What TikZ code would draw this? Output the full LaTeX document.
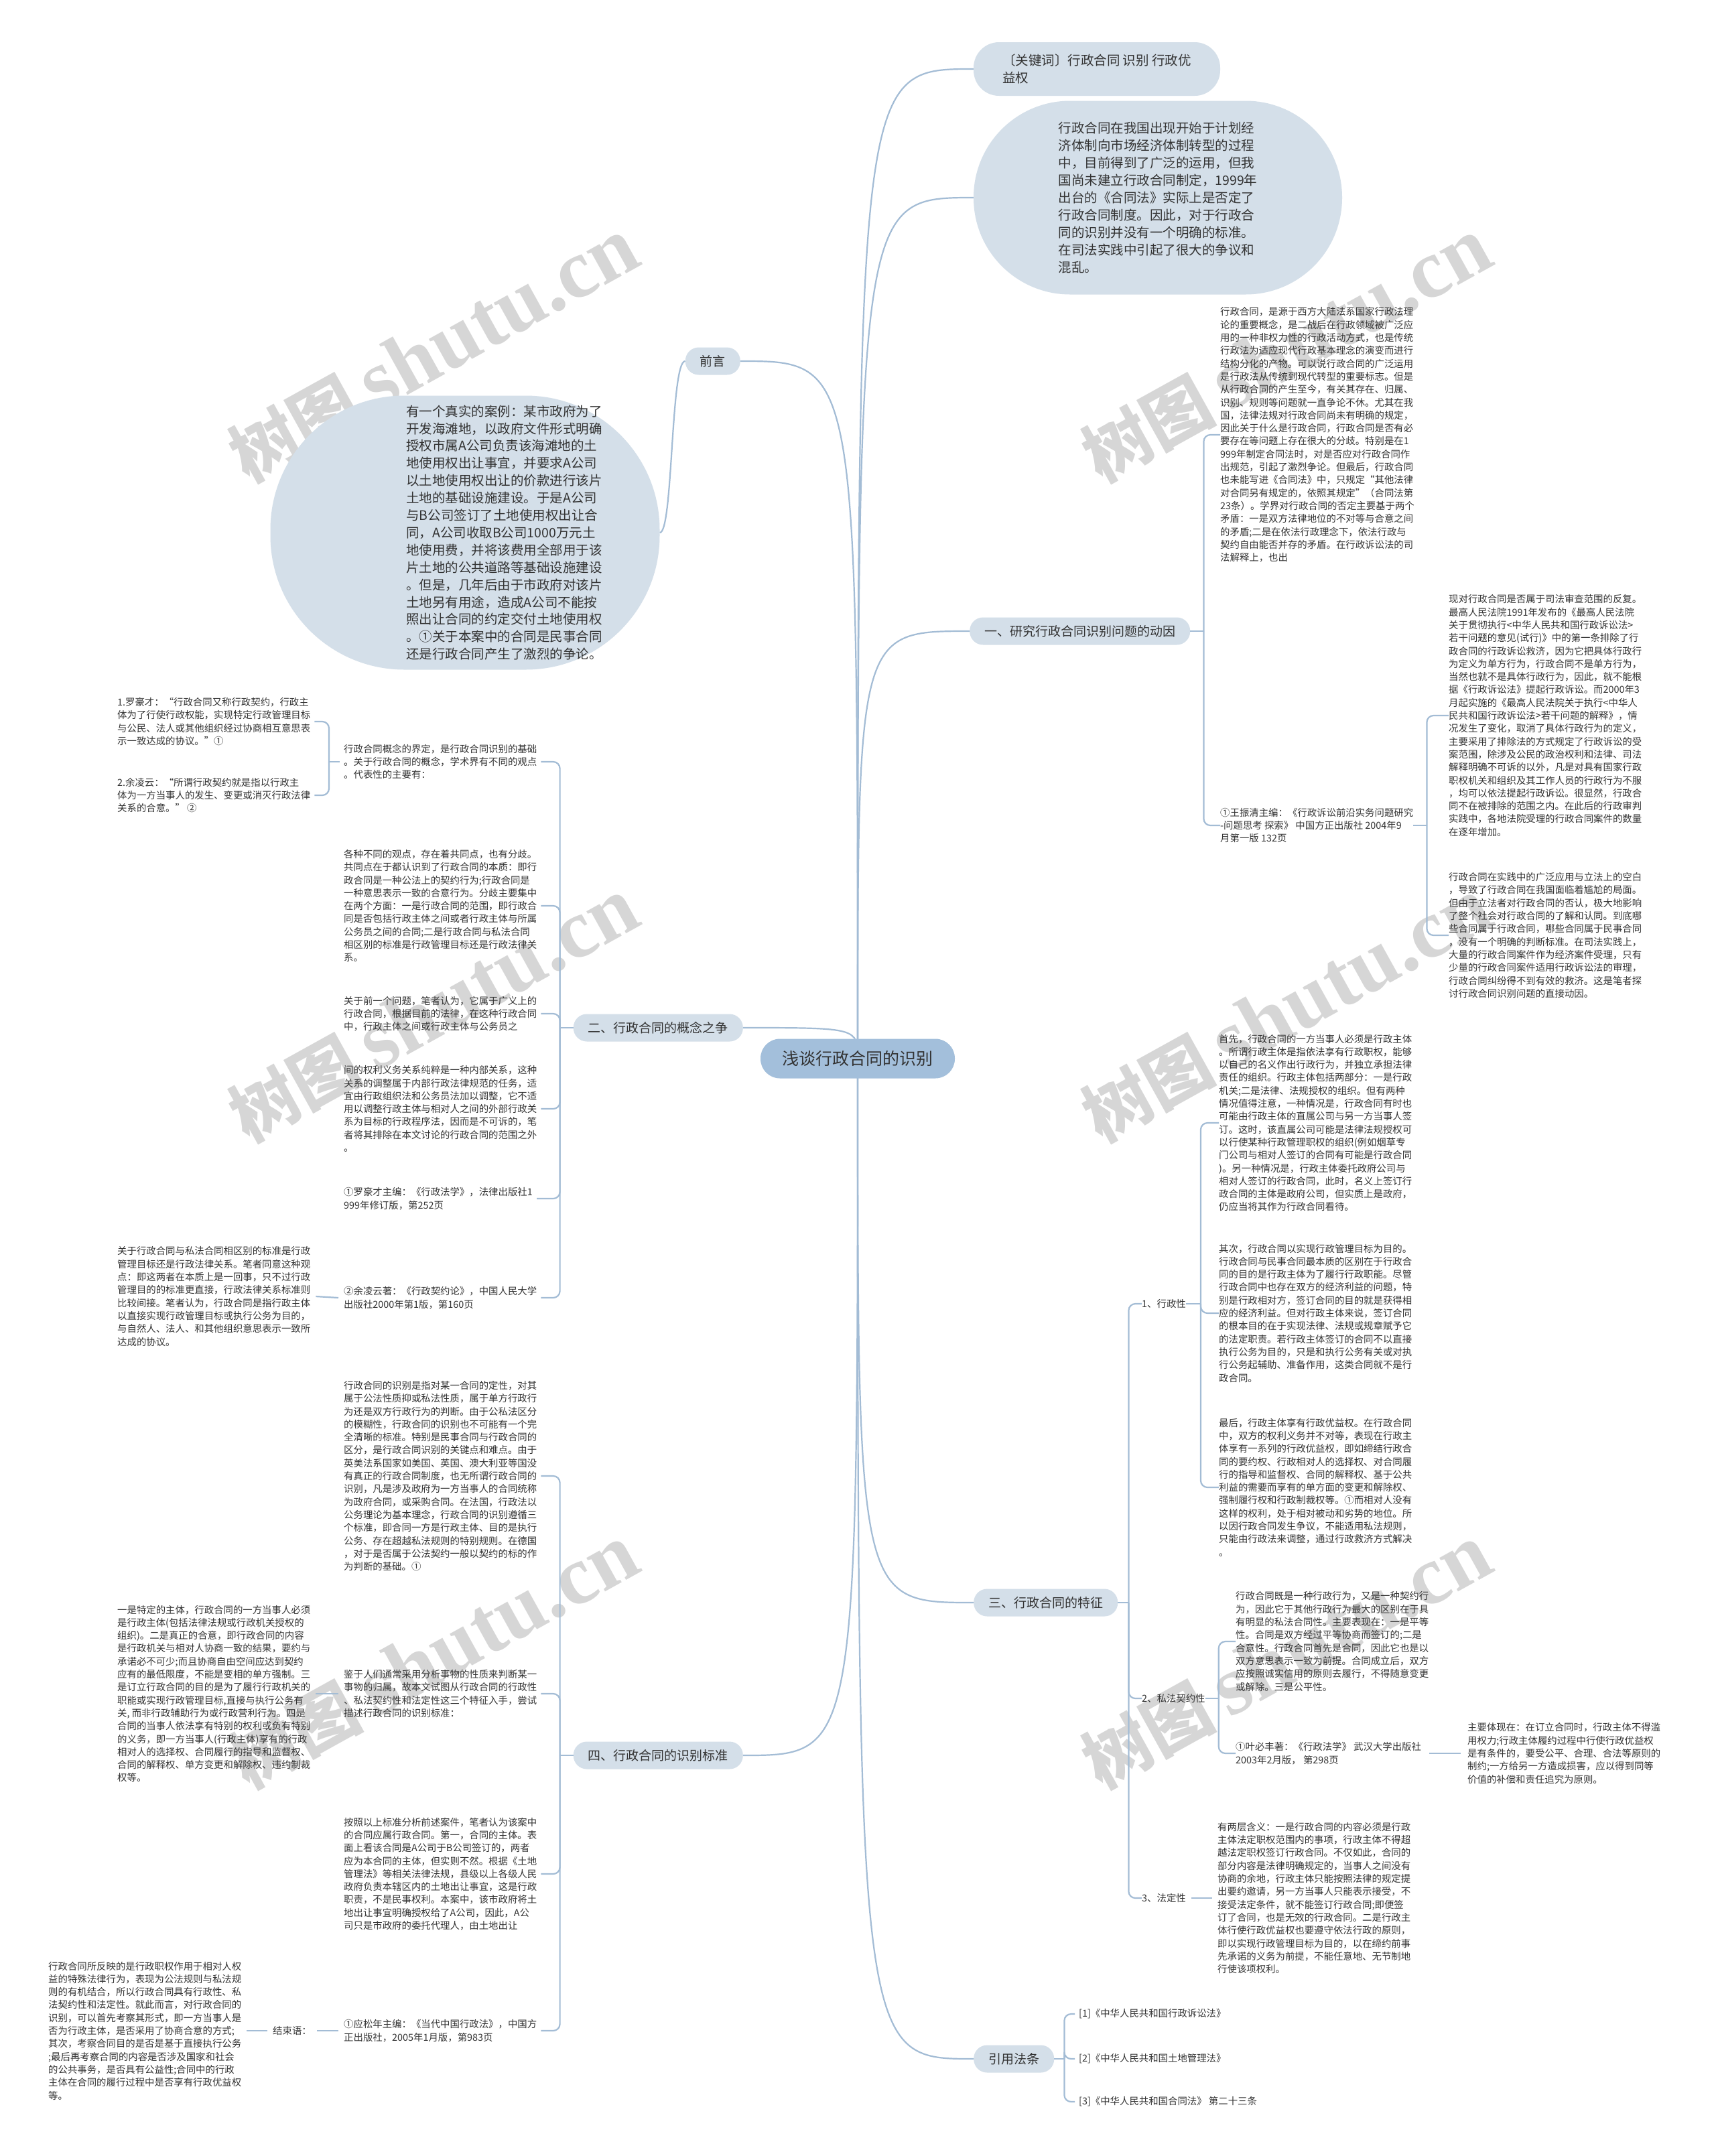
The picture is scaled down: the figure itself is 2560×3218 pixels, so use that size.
\documentclass[tikz,border=0pt]{standalone}
\usepackage{fontspec}
\setmainfont{Noto Sans CJK SC}
\newfontfamily\wmlatin{Liberation Serif}
\usetikzlibrary{calc}
\definecolor{txtc}{HTML}{333333}
\definecolor{linec}{HTML}{A3BCD5}
\definecolor{boxc}{HTML}{D4DFE9}
\definecolor{ctrfill}{HTML}{A3BFDB}
\definecolor{wmc}{HTML}{D6D6D6}
\newcommand\fsmall{\fontsize{14.4}{19.3}\selectfont}
\newcommand\fbig{\fontsize{19.5}{25.9}\selectfont}
\newcommand\flvl{\fontsize{19}{24}\selectfont}
\tikzset{
  txt/.style={inner sep=0pt, anchor=west, align=left, font=\fsmall, text=txtc},
  bigt/.style={inner sep=0pt, align=left, font=\fbig, text=txtc},
  lvl/.style={fill=boxc, rounded corners=20pt, inner xsep=22pt, inner ysep=0pt, minimum height=41pt, font=\flvl, text=txtc},
  stad/.style={fill=boxc, inner sep=0pt},
  conn/.style={draw=linec, line width=2.2pt, rounded corners=10pt},
  wm/.style={rotate=29, text=wmc, inner sep=0pt},
}
\begin{document}
\begin{tikzpicture}[x=1pt,y=-1pt]
\fill[white] (0,0) rectangle (2560,3218);
\useasboundingbox (0,0) rectangle (2560,3218);
% watermarks
\foreach \wx/\wy/\wn in {647/524/1,1920/524/2,647/1509/3,1920/1509/4,647/2474/5,1920/2474/6}{
  \node[wm] (wm\wn) at (\wx,\wy) {\fontsize{100}{100}\selectfont\bfseries 树图\hspace{20pt}{\wmlatin\fontsize{125}{125}\selectfont shutu.cn}};
}
% center position
\coordinate (cc) at (1280,1580);

% right level 1
\node[fill=boxc, rounded corners=38pt, minimum width=368pt, minimum height=80pt, align=left, font=\fbig, text=txtc, inner sep=0pt] (kw) at (1637,103) {〔关键词〕行政合同 识别 行政优\\益权};
\node[stad, minimum width=550pt, minimum height=289pt, rounded corners=144pt, align=left, font=\fbig, text=txtc] (intro) at (1728,295) {行政合同在我国出现开始于计划经\\济体制向市场经济体制转型的过程\\中，目前得到了广泛的运用，但我\\国尚未建立行政合同制定，1999年\\出台的《合同法》实际上是否定了\\行政合同制度。因此，对于行政合\\同的识别并没有一个明确的标准。\\在司法实践中引起了很大的争议和\\混乱。};
\node[lvl, anchor=west] (n1) at (1447,942) {一、研究行政合同识别问题的动因};
\node[lvl, anchor=west] (n3) at (1453,2392) {三、行政合同的特征};
\node[lvl, anchor=west] (nref) at (1453,3073) {引用法条};

% left level 1
\node[lvl, anchor=east] (qy) at (1105,539) {前言};
\node[lvl, anchor=east] (n2) at (1109,1534) {二、行政合同的概念之争};
\node[lvl, anchor=east] (n4) at (1109,2620) {四、行政合同的识别标准};

% center connectors (drawn from the centre, hidden under the centre node)
\foreach \t in {kw,intro,n1,n3,nref}{
  \draw[conn] (cc) .. controls (cc |- \t.west) .. (\t.west);
}
\foreach \t in {qy,n2,n4}{
  \draw[conn] (cc) .. controls (cc |- \t.east) .. (\t.east);
}
% center node
\node[fill=ctrfill, rounded corners=29pt, minimum width=290pt, minimum height=59pt, font=\fontsize{25}{30}\selectfont, text=txtc] (ctr) at (cc) {浅谈行政合同的识别};

% 前言 child
\node[stad, minimum width=581pt, minimum height=409pt, rounded corners=200pt] (case) at (694,795) {};
\node[bigt, anchor=west] (casetxt) at (606,795) {有一个真实的案例：某市政府为了\\开发海滩地，以政府文件形式明确\\授权市属A公司负责该海滩地的土\\地使用权出让事宜，并要求A公司\\以土地使用权出让的价款进行该片\\土地的基础设施建设。于是A公司\\与B公司签订了土地使用权出让合\\同，A公司收取B公司1000万元土\\地使用费，并将该费用全部用于该\\片土地的公共道路等基础设施建设\\。但是，几年后由于市政府对该片\\土地另有用途，造成A公司不能按\\照出让合同的约定交付土地使用权\\。①关于本案中的合同是民事合同\\还是行政合同产生了激烈的争论。};
\draw[conn] (qy.west) .. controls +(-22,0) and +(20,0) .. (case.east);

% ---------- 一 ----------
\node[txt] (t1) at (1821,649) {行政合同，是源于西方大陆法系国家行政法理\\论的重要概念，是二战后在行政领域被广泛应\\用的一种非权力性的行政活动方式，也是传统\\行政法为适应现代行政基本理念的演变而进行\\结构分化的产物。可以说行政合同的广泛运用\\是行政法从传统到现代转型的重要标志。但是\\从行政合同的产生至今，有关其存在、归属、\\识别、规则等问题就一直争论不休。尤其在我\\国，法律法规对行政合同尚未有明确的规定，\\因此关于什么是行政合同，行政合同是否有必\\要存在等问题上存在很大的分歧。特别是在1\\999年制定合同法时，对是否应对行政合同作\\出规范，引起了激烈争论。但最后，行政合同\\也未能写进《合同法》中，只规定“其他法律\\对合同另有规定的，依照其规定”（合同法第\\23条）。学界对行政合同的否定主要基于两个\\矛盾：一是双方法律地位的不对等与合意之间\\的矛盾;二是在依法行政理念下，依法行政与\\契约自由能否并存的矛盾。在行政诉讼法的司\\法解释上，也出};
\node[txt] (fn1) at (1821,1232) {①王振清主编：《行政诉讼前沿实务问题研究\\-问题思考 探索》 中国方正出版社 2004年9\\月第一版 132页};
\node[txt] (t2) at (2162,1068) {现对行政合同是否属于司法审查范围的反复。\\最高人民法院1991年发布的《最高人民法院\\关于贯彻执行<中华人民共和国行政诉讼法>\\若干问题的意见(试行)》中的第一条排除了行\\政合同的行政诉讼救济，因为它把具体行政行\\为定义为单方行为，行政合同不是单方行为，\\当然也就不是具体行政行为，因此，就不能根\\据《行政诉讼法》提起行政诉讼。而2000年3\\月起实施的《最高人民法院关于执行<中华人\\民共和国行政诉讼法>若干问题的解释》，情\\况发生了变化，取消了具体行政行为的定义，\\主要采用了排除法的方式规定了行政诉讼的受\\案范围，除涉及公民的政治权利和法律、司法\\解释明确不可诉的以外，凡是对具有国家行政\\职权机关和组织及其工作人员的行政行为不服\\，均可以依法提起行政诉讼。很显然，行政合\\同不在被排除的范围之内。在此后的行政审判\\实践中，各地法院受理的行政合同案件的数量\\在逐年增加。};
\node[txt] (t3) at (2162,1396) {行政合同在实践中的广泛应用与立法上的空白\\，导致了行政合同在我国面临着尴尬的局面。\\但由于立法者对行政合同的否认，极大地影响\\了整个社会对行政合同的了解和认同。到底哪\\些合同属于行政合同，哪些合同属于民事合同\\，没有一个明确的判断标准。在司法实践上，\\大量的行政合同案件作为经济案件受理，只有\\少量的行政合同案件适用行政诉讼法的审理，\\行政合同纠纷得不到有效的救济。这是笔者探\\讨行政合同识别问题的直接动因。};
\draw[conn] (n1.east) -- ++(20,0) coordinate (k1);
\draw[conn] (k1) |- (t1.west);
\draw[conn] (k1) |- (fn1.west);
\draw[conn] (fn1.east) -- ++(20,0) coordinate (kf1);
\draw[conn] (kf1) |- (t2.west);
\draw[conn] (kf1) |- (t3.west);

% ---------- 三 ----------
\node[txt] (s1) at (1704,1946) {1、行政性};
\node[txt] (s2) at (1704,2535) {2、私法契约性};
\node[txt] (s3) at (1704,2833) {3、法定性};
\draw[conn] (n3.east) -- ++(16,0) coordinate (k3);
\foreach \t in {s1,s2,s3}{ \draw[conn] (k3) |- (\t.west); }

\node[txt] (s1a) at (1819,1676) {首先，行政合同的一方当事人必须是行政主体\\。所谓行政主体是指依法享有行政职权，能够\\以自己的名义作出行政行为，并独立承担法律\\责任的组织。行政主体包括两部分：一是行政\\机关;二是法律、法规授权的组织。但有两种\\情况值得注意，一种情况是，行政合同有时也\\可能由行政主体的直属公司与另一方当事人签\\订。这时，该直属公司可能是法律法规授权可\\以行使某种行政管理职权的组织(例如烟草专\\门公司与相对人签订的合同有可能是行政合同\\)。另一种情况是，行政主体委托政府公司与\\相对人签订的行政合同，此时，名义上签订行\\政合同的主体是政府公司，但实质上是政府，\\仍应当将其作为行政合同看待。};
\node[txt] (s1b) at (1819,1960) {其次，行政合同以实现行政管理目标为目的。\\行政合同与民事合同最本质的区别在于行政合\\同的目的是行政主体为了履行行政职能。尽管\\行政合同中也存在双方的经济利益的问题，特\\别是行政相对方，签订合同的目的就是获得相\\应的经济利益。但对行政主体来说，签订合同\\的根本目的在于实现法律、法规或规章赋予它\\的法定职责。若行政主体签订的合同不以直接\\执行公务为目的，只是和执行公务有关或对执\\行公务起辅助、准备作用，这类合同就不是行\\政合同。};
\node[txt] (s1c) at (1819,2220) {最后，行政主体享有行政优益权。在行政合同\\中，双方的权利义务并不对等，表现在行政主\\体享有一系列的行政优益权，即如缔结行政合\\同的要约权、行政相对人的选择权、对合同履\\行的指导和监督权、合同的解释权、基于公共\\利益的需要而享有的单方面的变更和解除权、\\强制履行权和行政制裁权等。①而相对人没有\\这样的权利，处于相对被动和劣势的地位。所\\以因行政合同发生争议，不能适用私法规则，\\只能由行政法来调整，通过行政救济方式解决\\。};
\draw[conn] (s1.east) -- ++(22,0) coordinate (ks1);
\foreach \t in {s1a,s1b,s1c}{ \draw[conn] (ks1) |- (\t.west); }

\node[txt] (s2a) at (1844,2450) {行政合同既是一种行政行为，又是一种契约行\\为，因此它于其他行政行为最大的区别在于具\\有明显的私法合同性。主要表现在：一是平等\\性。合同是双方经过平等协商而签订的;二是\\合意性。行政合同首先是合同，因此它也是以\\双方意思表示一致为前提。合同成立后，双方\\应按照诚实信用的原则去履行，不得随意变更\\或解除。三是公平性。};
\node[txt] (s2b) at (1844,2617) {①叶必丰著：《行政法学》 武汉大学出版社\\2003年2月版， 第298页};
\node[txt] (s2c) at (2190,2617) {主要体现在：在订立合同时，行政主体不得滥\\用权力;行政主体履约过程中行使行政优益权\\是有条件的，要受公平、合理、合法等原则的\\制约;一方给另一方造成损害，应以得到同等\\价值的补偿和责任追究为原则。};
\draw[conn] (s2.east) -- ++(20,0) coordinate (ks2);
\foreach \t in {s2a,s2b}{ \draw[conn] (ks2) |- (\t.west); }
\draw[conn] ($(s2b.east)+(12,0)$) -- ($(s2c.west)+(-10,0)$);

\node[txt] (s3a) at (1817,2833) {有两层含义：一是行政合同的内容必须是行政\\主体法定职权范围内的事项，行政主体不得超\\越法定职权签订行政合同。不仅如此，合同的\\部分内容是法律明确规定的，当事人之间没有\\协商的余地，行政主体只能按照法律的规定提\\出要约邀请，另一方当事人只能表示接受，不\\接受法定条件，就不能签订行政合同;即便签\\订了合同，也是无效的行政合同。二是行政主\\体行使行政优益权也要遵守依法行政的原则，\\即以实现行政管理目标为目的，以在缔约前事\\先承诺的义务为前提，不能任意地、无节制地\\行使该项权利。};
\draw[conn] ($(s3.east)+(8,0)$) -- ($(s3a.west)+(-8,0)$);

% 引用法条
\node[txt] (r1) at (1610,3006) {[1]《中华人民共和国行政诉讼法》};
\node[txt] (r2) at (1610,3073) {[2]《中华人民共和国土地管理法》};
\node[txt] (r3) at (1610,3137) {[3]《中华人民共和国合同法》 第二十三条};
\draw[conn] (nref.east) -- ++(15,0) coordinate (kr);
\foreach \t in {r1,r2,r3}{ \draw[conn] (kr) |- ($(\t.west)+(-6,0)$); }

% ---------- 二 ----------
\node[txt] (a) at (513,1137) {行政合同概念的界定，是行政合同识别的基础\\。关于行政合同的概念，学术界有不同的观点\\。代表性的主要有：};
\node[txt] (a1) at (175,1077) {1.罗豪才：“行政合同又称行政契约，行政主\\体为了行使行政权能，实现特定行政管理目标\\与公民、法人或其他组织经过协商相互意思表\\示一致达成的协议。”①};
\node[txt] (a2) at (175,1187) {2.余凌云：“所谓行政契约就是指以行政主\\体为一方当事人的发生、变更或消灭行政法律\\关系的合意。” ②};
\node[txt] (b) at (513,1352) {各种不同的观点，存在着共同点，也有分歧。\\共同点在于都认识到了行政合同的本质：即行\\政合同是一种公法上的契约行为;行政合同是\\一种意思表示一致的合意行为。分歧主要集中\\在两个方面：一是行政合同的范围，即行政合\\同是否包括行政主体之间或者行政主体与所属\\公务员之间的合同;二是行政合同与私法合同\\相区别的标准是行政管理目标还是行政法律关\\系。};
\node[txt] (c) at (513,1513) {关于前一个问题，笔者认为，它属于广义上的\\行政合同，根据目前的法律，在这种行政合同\\中，行政主体之间或行政主体与公务员之};
\node[txt] (d) at (513,1655) {间的权利义务关系纯粹是一种内部关系，这种\\关系的调整属于内部行政法律规范的任务，适\\宜由行政组织法和公务员法加以调整，它不适\\用以调整行政主体与相对人之间的外部行政关\\系为目标的行政程序法，因而是不可诉的，笔\\者将其排除在本文讨论的行政合同的范围之外\\。};
\node[txt] (e) at (513,1789) {①罗豪才主编：《行政法学》，法律出版社1\\999年修订版，第252页};
\node[txt] (f) at (513,1937) {②余凌云著：《行政契约论》，中国人民大学\\出版社2000年第1版，第160页};
\node[txt] (fc) at (175,1935) {关于行政合同与私法合同相区别的标准是行政\\管理目标还是行政法律关系。笔者同意这种观\\点：即这两者在本质上是一回事，只不过行政\\管理目的的标准更直接，行政法律关系标准则\\比较间接。笔者认为，行政合同是指行政主体\\以直接实现行政管理目标或执行公务为目的，\\与自然人、法人、和其他组织意思表示一致所\\达成的协议。};
\draw[conn] (n2.west) -- ++(-20,0) coordinate (k2);
\foreach \t in {a,b,c,d,e,f}{ \draw[conn] (k2) |- ($(\t.east)+(6,0)$); }
\draw[conn] ($(a.west)+(-6,0)$) -- ++(-16,0) coordinate (ka);
\foreach \t in {a1,a2}{ \draw[conn] (ka) |- ($(\t.east)+(6,0)$); }
\draw[conn] ($(f.west)+(-8,0)$) -- ($(fc.east)+(8,0)$);

% ---------- 四 ----------
\node[txt] (g) at (513,2203) {行政合同的识别是指对某一合同的定性，对其\\属于公法性质抑或私法性质，属于单方行政行\\为还是双方行政行为的判断。由于公私法区分\\的模糊性，行政合同的识别也不可能有一个完\\全清晰的标准。特别是民事合同与行政合同的\\区分，是行政合同识别的关键点和难点。由于\\英美法系国家如美国、英国、澳大利亚等国没\\有真正的行政合同制度，也无所谓行政合同的\\识别，凡是涉及政府为一方当事人的合同统称\\为政府合同，或采购合同。在法国，行政法以\\公务理论为基本理念，行政合同的识别遵循三\\个标准，即合同一方是行政主体、目的是执行\\公务、存在超越私法规则的特别规则。在德国\\，对于是否属于公法契约一般以契约的标的作\\为判断的基础。①};
\node[txt] (h) at (513,2528) {鉴于人们通常采用分析事物的性质来判断某一\\事物的归属，故本文试图从行政合同的行政性\\、私法契约性和法定性这三个特征入手，尝试\\描述行政合同的识别标准：};
\node[txt] (hc) at (175,2528) {一是特定的主体，行政合同的一方当事人必须\\是行政主体(包括法律法规或行政机关授权的\\组织)。二是真正的合意，即行政合同的内容\\是行政机关与相对人协商一致的结果，要约与\\承诺必不可少;而且协商自由空间应达到契约\\应有的最低限度，不能是变相的单方强制。三\\是订立行政合同的目的是为了履行行政机关的\\职能或实现行政管理目标,直接与执行公务有\\关, 而非行政辅助行为或行政营利行为。四是\\合同的当事人依法享有特别的权利或负有特别\\的义务，即一方当事人(行政主体)享有的行政\\相对人的选择权、合同履行的指导和监督权、\\合同的解释权、单方变更和解除权、违约制裁\\权等。};
\node[txt] (i) at (513,2797) {按照以上标准分析前述案件，笔者认为该案中\\的合同应属行政合同。第一，合同的主体。表\\面上看该合同是A公司于B公司签订的，两者\\应为本合同的主体，但实则不然。根据《土地\\管理法》等相关法律法规，县级以上各级人民\\政府负责本辖区内的土地出让事宜，这是行政\\职责，不是民事权利。本案中，该市政府将土\\地出让事宜明确授权给了A公司，因此，A公\\司只是市政府的委托代理人，由土地出让};
\node[txt] (j) at (513,3031) {①应松年主编：《当代中国行政法》，中国方\\正出版社，2005年1月版，第983页};
\node[txt, anchor=center] (jend) at (436,3031) {结束语：};
\node[txt] (jc) at (72,3031) {行政合同所反映的是行政职权作用于相对人权\\益的特殊法律行为，表现为公法规则与私法规\\则的有机结合，所以行政合同具有行政性、私\\法契约性和法定性。就此而言，对行政合同的\\识别，可以首先考察其形式，即一方当事人是\\否为行政主体，是否采用了协商合意的方式;\\其次，考察合同目的是否是基于直接执行公务\\;最后再考察合同的内容是否涉及国家和社会\\的公共事务，是否具有公益性;合同中的行政\\主体在合同的履行过程中是否享有行政优益权\\等。};
\draw[conn] (n4.west) -- ++(-20,0) coordinate (k4);
\foreach \t in {g,h,i,j}{ \draw[conn] (k4) |- ($(\t.east)+(6,0)$); }
\draw[conn] ($(h.west)+(-8,0)$) -- ($(hc.east)+(8,0)$);
\draw[conn] ($(j.west)+(-8,0)$) -- ($(jend.east)+(8,0)$);
\draw[conn] ($(jend.west)+(-8,0)$) -- ($(jc.east)+(8,0)$);
\end{tikzpicture}
\end{document}
